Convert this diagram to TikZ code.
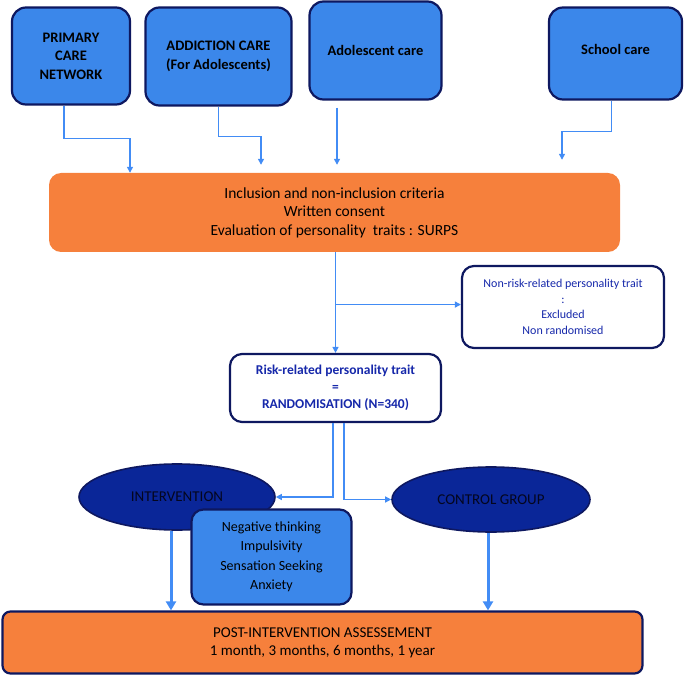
\documentclass[tikz,border=0pt]{standalone}
\usepackage{fontspec}
\setmainfont{Carlito}
\usepackage{xcolor}
\usetikzlibrary{arrows.meta, positioning, shapes.geometric, calc}

\definecolor{srcblue}{RGB}{59,135,234}
\definecolor{navyline}{RGB}{14,24,96}
\definecolor{lineblue}{RGB}{66,140,245}
\definecolor{ovalblue}{RGB}{10,38,152}
\definecolor{ovaltext}{RGB}{4,6,30}
\definecolor{orangefill}{RGB}{246,128,60}
\definecolor{textblue}{RGB}{22,40,170}

\begin{document}
\begin{tikzpicture}[x=1pt, y=-1pt,
    srcbox/.style={rectangle, rounded corners=14pt, draw=navyline, line width=2.2pt, fill=srcblue, align=center, font=\fontsize{14.5}{18.5}\selectfont\bfseries},
    orangebox/.style={rectangle, rounded corners=12pt, fill=orangefill, align=center},
    whitebox/.style={rectangle, rounded corners=12pt, draw=navyline, line width=2.2pt, fill=white, text=textblue, align=center},
    groupoval/.style={ellipse, draw=navyline, line width=1.6pt, fill=ovalblue, text=ovaltext, font=\fontsize{15}{18}\selectfont, inner sep=0pt},
    flow/.style={draw=lineblue, line width=1.3pt, -{Triangle[length=6pt, width=6pt]}},
    bigflow/.style={draw=lineblue, line width=3pt, -{Triangle[length=9pt, width=10pt]}}
]
        \useasboundingbox (0,0) rectangle (685,676);

        % referral sources
        \node[srcbox, minimum width=118pt, minimum height=97pt] (pcn) at (71,56) {PRIMARY\\CARE\\NETWORK};
        \node[srcbox, minimum width=146pt, minimum height=98pt] (addict) at (218.5,56.5) {ADDICTION CARE\\(For Adolescents)};
        \node[srcbox, minimum width=132pt, minimum height=98pt] (adol) at (375.5,50.5) {Adolescent care};
        \node[srcbox, minimum width=133pt, minimum height=92pt] (school) at (615.5,53.5) {\raisebox{8pt}{School care}};

        % screening
        \node[orangebox, minimum width=571pt, minimum height=79pt, font=\fontsize{15.5}{18.5}\selectfont] (incl) at (334.5,212.5) {Inclusion and non-inclusion criteria\\Written consent\\Evaluation of personality~ traits : SURPS};
        \node[whitebox, minimum width=202pt, minimum height=82pt, font=\fontsize{12}{15.5}\selectfont] (nonrisk) at (563,307) {Non-risk-related personality trait\\:\\Excluded\\Non randomised};
        \node[whitebox, minimum width=211pt, minimum height=68pt, font=\fontsize{13.5}{17}\selectfont\bfseries] (risk) at (335.5,388) {Risk-related personality trait\\=\\RANDOMISATION (N=340)};

        % study arms
        \node[groupoval, minimum width=196pt, minimum height=66pt] (interv) at (177,497) {INTERVENTION};
        \node[groupoval, minimum width=198pt, minimum height=65pt] (ctrl) at (491,499.5) {CONTROL GROUP};
        \node[srcbox, rounded corners=12pt, minimum width=160pt, minimum height=95pt, font=\fontsize{14}{19.5}\selectfont] (traits) at (271.5,557) {Negative thinking\\Impulsivity\\Sensation Seeking\\Anxiety};

        % follow-up
        \node[orangebox, rounded corners=8pt, draw=navyline, line width=2.2pt, minimum width=640pt, minimum height=62pt, font=\fontsize{15}{18}\selectfont] (post) at (322.5,642.5) {POST-INTERVENTION ASSESSEMENT\\1 month, 3 months, 6 months, 1 year};

        % feeders into the criteria box
        \draw[flow] ([xshift=-7pt]pcn.south) -- ++(0,33) -| ([xshift=-204.5pt]incl.north);
        \draw[flow, shorten >=8pt] (addict.south) -- ++(0,30) -| ([xshift=-73.5pt]incl.north);
        \draw[flow, shorten >=8pt] ([xshift=-38.5pt]adol.south) ++(0,7) -- ([xshift=2.5pt]incl.north);
        \draw[flow, shorten >=13pt] ([xshift=-4pt]school.south) -- ++(0,31) -| ([xshift=227.5pt]incl.north);

        % screening outcome
        \draw[flow] (incl.south -| risk.north) -- (risk.north);
        \coordinate (split) at ($(incl.south -| risk.north)!0.52!(risk.north)$);
        \draw[flow] (split) -- (split -| nonrisk.west);

        % randomisation
        \draw[flow] ([xshift=-2.5pt]risk.south) |- (interv.east);
        \draw[flow] ([xshift=8.5pt]risk.south) |- (ctrl.west);

        % to assessment
        \coordinate (ia) at ([xshift=-6pt]interv.south);
        \coordinate (ca) at ([xshift=-3pt]ctrl.south);
        \draw[bigflow] (ia) -- (ia |- post.north);
        \draw[bigflow] (ca) -- (ca |- post.north);
    \end{tikzpicture}
\end{document}
